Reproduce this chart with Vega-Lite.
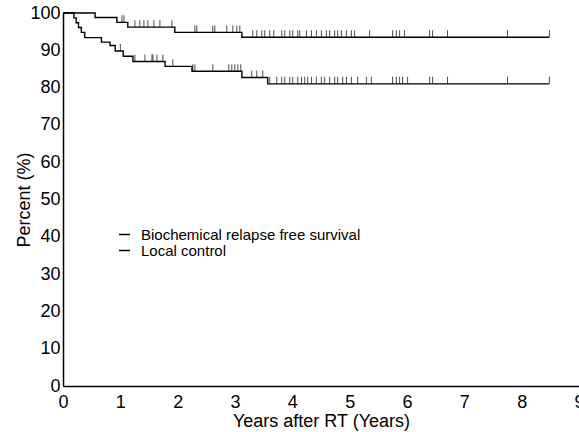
{
  "$schema": "https://vega.github.io/schema/vega-lite/v6.json",
  "width": 516,
  "height": 373,
  "autosize": {"type": "none"},
  "padding": {"left": 63, "top": 13, "right": 0, "bottom": 46},
  "background": "white",
  "config": {
    "view": {"stroke": null},
    "font": "Liberation Sans",
    "axis": {"grid": false, "ticks": false, "domainColor": "black", "domainWidth": 1.5, "labelColor": "black", "titleColor": "black", "labelFont": "Liberation Sans", "titleFont": "Liberation Sans", "labelFontSize": 18, "titleFontSize": 18, "titleFontWeight": "normal", "labelOverlap": false}
  },
  "datasets": {
    "steps": [
      {"series": "Biochemical relapse free survival", "t": 0, "s": 100},
      {"series": "Biochemical relapse free survival", "t": 0.19, "s": 98.7},
      {"series": "Biochemical relapse free survival", "t": 0.23, "s": 97.4},
      {"series": "Biochemical relapse free survival", "t": 0.27, "s": 96.1},
      {"series": "Biochemical relapse free survival", "t": 0.32, "s": 94.8},
      {"series": "Biochemical relapse free survival", "t": 0.38, "s": 93.4},
      {"series": "Biochemical relapse free survival", "t": 0.67, "s": 92.2},
      {"series": "Biochemical relapse free survival", "t": 0.82, "s": 91.3},
      {"series": "Biochemical relapse free survival", "t": 0.91, "s": 89.8},
      {"series": "Biochemical relapse free survival", "t": 1.05, "s": 88.4},
      {"series": "Biochemical relapse free survival", "t": 1.22, "s": 87.0},
      {"series": "Biochemical relapse free survival", "t": 1.78, "s": 85.7},
      {"series": "Biochemical relapse free survival", "t": 2.25, "s": 84.4},
      {"series": "Biochemical relapse free survival", "t": 3.12, "s": 82.7},
      {"series": "Biochemical relapse free survival", "t": 3.57, "s": 81.0},
      {"series": "Biochemical relapse free survival", "t": 8.48, "s": 81.0},
      {"series": "Local control", "t": 0, "s": 100},
      {"series": "Local control", "t": 0.56, "s": 98.8},
      {"series": "Local control", "t": 0.94, "s": 97.5},
      {"series": "Local control", "t": 1.13, "s": 96.2},
      {"series": "Local control", "t": 1.95, "s": 94.8},
      {"series": "Local control", "t": 3.12, "s": 93.5},
      {"series": "Local control", "t": 8.48, "s": 93.5}
    ],
    "censor": [
      {"series": "Local control", "t": 1.028, "s": 97.5},
      {"series": "Local control", "t": 1.063, "s": 97.5},
      {"series": "Local control", "t": 1.254, "s": 96.2},
      {"series": "Local control", "t": 1.341, "s": 96.2},
      {"series": "Local control", "t": 1.411, "s": 96.2},
      {"series": "Local control", "t": 1.481, "s": 96.2},
      {"series": "Local control", "t": 1.585, "s": 96.2},
      {"series": "Local control", "t": 1.69, "s": 96.2},
      {"series": "Local control", "t": 1.899, "s": 96.2},
      {"series": "Local control", "t": 2.3, "s": 94.8},
      {"series": "Local control", "t": 2.334, "s": 94.8},
      {"series": "Local control", "t": 2.613, "s": 94.8},
      {"series": "Local control", "t": 2.648, "s": 94.8},
      {"series": "Local control", "t": 2.857, "s": 94.8},
      {"series": "Local control", "t": 2.962, "s": 94.8},
      {"series": "Local control", "t": 3.031, "s": 94.8},
      {"series": "Local control", "t": 3.084, "s": 94.8},
      {"series": "Local control", "t": 3.31, "s": 93.5},
      {"series": "Local control", "t": 3.38, "s": 93.5},
      {"series": "Local control", "t": 3.467, "s": 93.5},
      {"series": "Local control", "t": 3.519, "s": 93.5},
      {"series": "Local control", "t": 3.606, "s": 93.5},
      {"series": "Local control", "t": 3.676, "s": 93.5},
      {"series": "Local control", "t": 3.815, "s": 93.5},
      {"series": "Local control", "t": 3.868, "s": 93.5},
      {"series": "Local control", "t": 3.955, "s": 93.5},
      {"series": "Local control", "t": 4.007, "s": 93.5},
      {"series": "Local control", "t": 4.094, "s": 93.5},
      {"series": "Local control", "t": 4.129, "s": 93.5},
      {"series": "Local control", "t": 4.246, "s": 93.5},
      {"series": "Local control", "t": 4.333, "s": 93.5},
      {"series": "Local control", "t": 4.42, "s": 93.5},
      {"series": "Local control", "t": 4.507, "s": 93.5},
      {"series": "Local control", "t": 4.594, "s": 93.5},
      {"series": "Local control", "t": 4.652, "s": 93.5},
      {"series": "Local control", "t": 4.739, "s": 93.5},
      {"series": "Local control", "t": 4.791, "s": 93.5},
      {"series": "Local control", "t": 4.855, "s": 93.5},
      {"series": "Local control", "t": 4.943, "s": 93.5},
      {"series": "Local control", "t": 5.03, "s": 93.5},
      {"series": "Local control", "t": 5.087, "s": 93.5},
      {"series": "Local control", "t": 5.348, "s": 93.5},
      {"series": "Local control", "t": 5.749, "s": 93.5},
      {"series": "Local control", "t": 5.814, "s": 93.5},
      {"series": "Local control", "t": 5.871, "s": 93.5},
      {"series": "Local control", "t": 5.958, "s": 93.5},
      {"series": "Local control", "t": 6.394, "s": 93.5},
      {"series": "Local control", "t": 6.446, "s": 93.5},
      {"series": "Local control", "t": 6.707, "s": 93.5},
      {"series": "Local control", "t": 7.753, "s": 93.5},
      {"series": "Local control", "t": 8.484, "s": 93.5},
      {"series": "Biochemical relapse free survival", "t": 1.0, "s": 89.8},
      {"series": "Biochemical relapse free survival", "t": 1.254, "s": 87.0},
      {"series": "Biochemical relapse free survival", "t": 1.429, "s": 87.0},
      {"series": "Biochemical relapse free survival", "t": 1.551, "s": 87.0},
      {"series": "Biochemical relapse free survival", "t": 1.568, "s": 87.0},
      {"series": "Biochemical relapse free survival", "t": 1.638, "s": 87.0},
      {"series": "Biochemical relapse free survival", "t": 1.742, "s": 87.0},
      {"series": "Biochemical relapse free survival", "t": 1.916, "s": 85.7},
      {"series": "Biochemical relapse free survival", "t": 2.265, "s": 84.4},
      {"series": "Biochemical relapse free survival", "t": 2.3, "s": 84.4},
      {"series": "Biochemical relapse free survival", "t": 2.613, "s": 84.4},
      {"series": "Biochemical relapse free survival", "t": 2.892, "s": 84.4},
      {"series": "Biochemical relapse free survival", "t": 2.944, "s": 84.4},
      {"series": "Biochemical relapse free survival", "t": 2.997, "s": 84.4},
      {"series": "Biochemical relapse free survival", "t": 3.049, "s": 84.4},
      {"series": "Biochemical relapse free survival", "t": 3.101, "s": 84.4},
      {"series": "Biochemical relapse free survival", "t": 3.293, "s": 82.7},
      {"series": "Biochemical relapse free survival", "t": 3.38, "s": 82.7},
      {"series": "Biochemical relapse free survival", "t": 3.484, "s": 82.7},
      {"series": "Biochemical relapse free survival", "t": 3.606, "s": 81.0},
      {"series": "Biochemical relapse free survival", "t": 3.728, "s": 81.0},
      {"series": "Biochemical relapse free survival", "t": 3.815, "s": 81.0},
      {"series": "Biochemical relapse free survival", "t": 3.868, "s": 81.0},
      {"series": "Biochemical relapse free survival", "t": 3.955, "s": 81.0},
      {"series": "Biochemical relapse free survival", "t": 4.007, "s": 81.0},
      {"series": "Biochemical relapse free survival", "t": 4.094, "s": 81.0},
      {"series": "Biochemical relapse free survival", "t": 4.159, "s": 81.0},
      {"series": "Biochemical relapse free survival", "t": 4.216, "s": 81.0},
      {"series": "Biochemical relapse free survival", "t": 4.268, "s": 81.0},
      {"series": "Biochemical relapse free survival", "t": 4.333, "s": 81.0},
      {"series": "Biochemical relapse free survival", "t": 4.42, "s": 81.0},
      {"series": "Biochemical relapse free survival", "t": 4.507, "s": 81.0},
      {"series": "Biochemical relapse free survival", "t": 4.564, "s": 81.0},
      {"series": "Biochemical relapse free survival", "t": 4.652, "s": 81.0},
      {"series": "Biochemical relapse free survival", "t": 4.739, "s": 81.0},
      {"series": "Biochemical relapse free survival", "t": 4.791, "s": 81.0},
      {"series": "Biochemical relapse free survival", "t": 4.878, "s": 81.0},
      {"series": "Biochemical relapse free survival", "t": 4.943, "s": 81.0},
      {"series": "Biochemical relapse free survival", "t": 5.03, "s": 81.0},
      {"series": "Biochemical relapse free survival", "t": 5.139, "s": 81.0},
      {"series": "Biochemical relapse free survival", "t": 5.291, "s": 81.0},
      {"series": "Biochemical relapse free survival", "t": 5.378, "s": 81.0},
      {"series": "Biochemical relapse free survival", "t": 5.749, "s": 81.0},
      {"series": "Biochemical relapse free survival", "t": 5.814, "s": 81.0},
      {"series": "Biochemical relapse free survival", "t": 5.871, "s": 81.0},
      {"series": "Biochemical relapse free survival", "t": 5.923, "s": 81.0},
      {"series": "Biochemical relapse free survival", "t": 6.01, "s": 81.0},
      {"series": "Biochemical relapse free survival", "t": 6.394, "s": 81.0},
      {"series": "Biochemical relapse free survival", "t": 6.446, "s": 81.0},
      {"series": "Biochemical relapse free survival", "t": 6.707, "s": 81.0},
      {"series": "Biochemical relapse free survival", "t": 7.753, "s": 81.0},
      {"series": "Biochemical relapse free survival", "t": 8.484, "s": 81.0}
    ]
  },
  "encoding": {
    "x": {"field": "t", "type": "quantitative", "scale": {"domain": [0, 9], "nice": false}, "axis": {"values": [0,1,2,3,4,5,6,7,8,9], "format": "d", "title": "Years after RT (Years)", "labelPadding": 7, "titlePadding": 1, "labelFlush": false, "labelOverlap": false}},
    "y": {"field": "s", "type": "quantitative", "scale": {"domain": [0, 100], "nice": false}, "axis": {"values": [0,10,20,30,40,50,60,70,80,90,100], "tickCount": 11, "format": "d", "title": "Percent (%)", "labelPadding": 3, "labelOverlap": false, "labelFlush": false, "labelBound": false, "titleX": -30, "titleBaseline": "bottom"}}
  },
  "layer": [
    {
      "data": {"name": "steps"},
      "mark": {"type": "line", "interpolate": "step-after", "strokeWidth": 1.4},
      "encoding": {
        "color": {"field": "series", "type": "nominal", "scale": {"domain": ["Biochemical relapse free survival", "Local control"], "range": ["black", "black"]},
          "legend": {"title": null, "orient": "none", "legendX": 54, "legendY": 214, "symbolType": "stroke", "symbolSize": 120, "symbolStrokeWidth": 1.5, "labelFontSize": 15, "labelLimit": 400, "labelColor": "black", "labelFont": "Liberation Sans", "labelOffset": 9, "rowPadding": 0}}
      }
    },
    {
      "data": {"name": "censor"},
      "mark": {"type": "tick", "orient": "vertical", "color": "black", "size": 7, "thickness": 1, "yOffset": -3.5},
      "encoding": {}
    }
  ]
}
